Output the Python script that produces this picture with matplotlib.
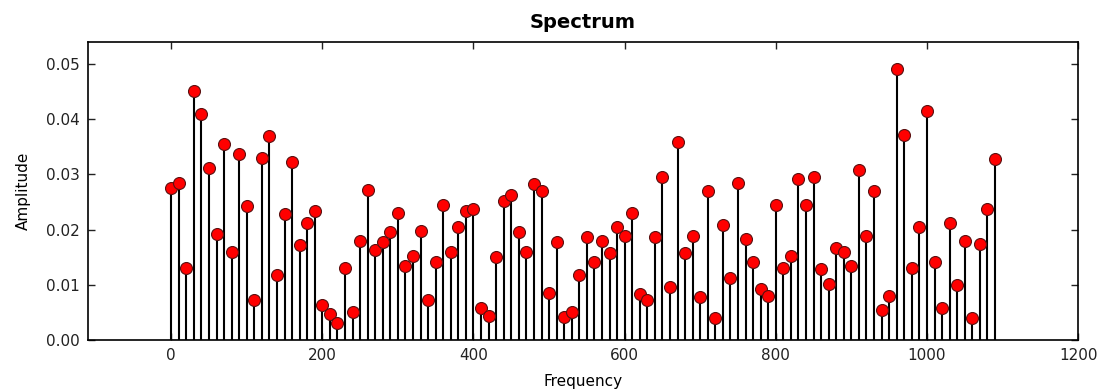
import numpy as np
import matplotlib
matplotlib.use("Agg")
import matplotlib.pyplot as plt

# Frequency bins (step 10) and measured amplitude per bin
frequency = list(range(0, 1100, 10))
amplitude = [
    0.0276, 0.0285, 0.0131, 0.0451, 0.0410, 0.0311, 0.0192, 0.0355, 0.0160, 0.0336,
    0.0243, 0.0073, 0.0330, 0.0369, 0.0117, 0.0228, 0.0323, 0.0172, 0.0211, 0.0233,
    0.0063, 0.0048, 0.0031, 0.0131, 0.0051, 0.0180, 0.0272, 0.0163, 0.0177, 0.0195,
    0.0230, 0.0134, 0.0153, 0.0198, 0.0073, 0.0141, 0.0244, 0.0160, 0.0205, 0.0233,
    0.0237, 0.0058, 0.0044, 0.0150, 0.0252, 0.0263, 0.0195, 0.0160, 0.0282, 0.0269,
    0.0086, 0.0177, 0.0042, 0.0051, 0.0118, 0.0186, 0.0141, 0.0179, 0.0157, 0.0205,
    0.0189, 0.0230, 0.0083, 0.0073, 0.0186, 0.0295, 0.0096, 0.0359, 0.0157, 0.0189,
    0.0077, 0.0269, 0.0039, 0.0208, 0.0112, 0.0285, 0.0183, 0.0141, 0.0093, 0.0080,
    0.0244, 0.0131, 0.0153, 0.0292, 0.0244, 0.0295, 0.0128, 0.0102, 0.0166, 0.0160,
    0.0134, 0.0307, 0.0189, 0.0269, 0.0054, 0.0080, 0.0490, 0.0372, 0.0131, 0.0205,
    0.0414, 0.0141, 0.0058, 0.0211, 0.0099, 0.0179, 0.0039, 0.0173, 0.0237, 0.0327,
]

x_ticks = [0, 200, 400, 600, 800, 1000, 1200]
y_ticks = [0.00, 0.01, 0.02, 0.03, 0.04, 0.05]

fig = plt.figure(figsize=(10.99, 3.91), dpi=100)
ax = fig.add_axes([0.0801, 0.1304, 0.9009, 0.7614])

markerline, stemlines, baseline = ax.stem(frequency, amplitude, linefmt="k-",
                                          markerfmt="o", basefmt="k-")
plt.setp(stemlines, linewidth=1.5, color="black")
plt.setp(markerline, markersize=8.6, markerfacecolor="red",
         markeredgecolor="#5a1010", markeredgewidth=0.8, zorder=3)
plt.setp(baseline, linewidth=1.0, color="black")

ax.set_xlim(-110, 1200)
ax.set_ylim(0, max(amplitude) * 1.1)
ax.set_xticks(x_ticks)
ax.set_yticks(y_ticks)
ax.set_yticklabels([f"{v:.2f}" for v in y_ticks])

ax.tick_params(direction="in", length=5, width=1, top=True, right=True,
               labelsize=11, colors="#222222", pad=6)
for sp in ax.spines.values():
    sp.set_linewidth(1.2)
    sp.set_color("black")

ax.set_title("Spectrum", fontsize=14, fontweight="bold", pad=10)
ax.set_xlabel("Frequency", fontsize=11, labelpad=8)
ax.set_ylabel("Amplitude", fontsize=11, labelpad=11)

fig.savefig("out.png", dpi=100)
